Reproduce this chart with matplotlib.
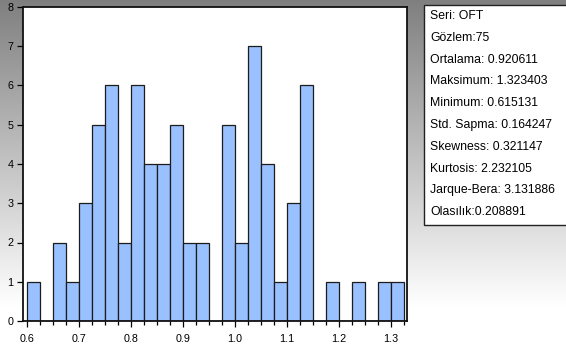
import numpy as np
import matplotlib
matplotlib.use("Agg")
import matplotlib.pyplot as plt
from matplotlib.patches import Rectangle
from matplotlib.ticker import MultipleLocator

plt.rcParams['font.family'] = ['Liberation Sans Narrow', 'Liberation Sans', 'DejaVu Sans']

# Histogram of OFT (bin width 0.025 starting at 0.600)
bin_start = 0.600
bin_width = 0.025
counts = [1, 0, 2, 1, 3, 5, 6, 2, 6, 4, 4, 5, 2, 2, 0,
          5, 2, 7, 4, 1, 3, 6, 0, 1, 0, 1, 0, 1, 1]
x_ticks = [0.6, 0.7, 0.8, 0.9, 1.0, 1.1, 1.2, 1.3]
x_tick_labels = ['0.6', '0.7', '0.8', '0.9', '1.0', '1.1', '1.2', '1.3']
y_ticks = [0, 1, 2, 3, 4, 5, 6, 7, 8]

stats_lines = [
    "Seri: OFT",
    "Gözlem:75",
    "Ortalama: 0.920611",
    "Maksimum: 1.323403",
    "Minimum: 0.615131",
    "Std. Sapma: 0.164247",
    "Skewness: 0.321147",
    "Kurtosis: 2.232105",
    "Jarque-Bera: 3.131886",
    "Olasılık:0.208891",
]

W, H = 566, 353
fig = plt.figure(figsize=(W / 100, H / 100), dpi=100)
renderer = fig.canvas.get_renderer()


def size_for_width(text, target_px, base=10.0):
    """Font size at which `text` renders `target_px` pixels wide."""
    t = fig.text(0, 0, text, fontsize=base)
    w = t.get_window_extent(renderer=renderer).width
    t.remove()
    return base * target_px / w


# gray-to-white vertical gradient behind everything
bg = fig.add_axes([0, 0, 1, 1], zorder=-10)
grad = np.linspace(0, 1, 256)[:, None]
levels = 0.50 + 0.50 * np.clip(grad * 1.15, 0, 1)
bg.imshow(np.dstack([levels] * 3), aspect='auto', extent=[0, 1, 0, 1],
          origin='upper', interpolation='bilinear')
bg.axis('off')


def fx(px):
    return px / W


def fy(py):
    return 1 - py / H


left, right, top, bottom = 23, 407, 7, 321
ax = fig.add_axes([fx(left), fy(bottom), fx(right - left), (bottom - top) / H])
ax.set_facecolor('white')

lefts = [bin_start + i * bin_width for i in range(len(counts))]
ax.bar(lefts, counts, width=bin_width, align='edge',
       color='#99C0FF', edgecolor='#1c1c1c', linewidth=0.9)

tick_size = size_for_width("0.6", 15)
ax.set_xlim(0.5925, 1.3308)
ax.set_ylim(0, 8)
ax.set_xticks(x_ticks)
ax.set_xticklabels(x_tick_labels)
ax.xaxis.set_minor_locator(MultipleLocator(bin_width))
ax.set_yticks(y_ticks)
ax.tick_params(axis='both', which='major', direction='out', length=4,
               width=0.9, labelsize=tick_size, colors='black')
ax.tick_params(axis='x', which='major', pad=5)
ax.tick_params(axis='y', which='major', pad=3)
ax.tick_params(axis='x', which='minor', direction='out', length=3, width=0.9)
for s in ax.spines.values():
    s.set_linewidth(1.3)
    s.set_color('#111111')

# summary statistics panel
stats_size = size_for_width("Jarque-Bera: 3.131886", 125)
box_l, box_t, box_r, box_b = 424, 5, 570, 225
fig.patches.append(Rectangle((fx(box_l), fy(box_b)), fx(box_r - box_l),
                             (box_b - box_t) / H, transform=fig.transFigure,
                             facecolor='white', edgecolor='#222222',
                             linewidth=1.0, zorder=5))
for i, line in enumerate(stats_lines):
    fig.text(fx(430), fy(16 + i * 21.8), line, fontsize=stats_size,
             ha='left', va='center', zorder=6)

fig.savefig('out.png', dpi=100)
